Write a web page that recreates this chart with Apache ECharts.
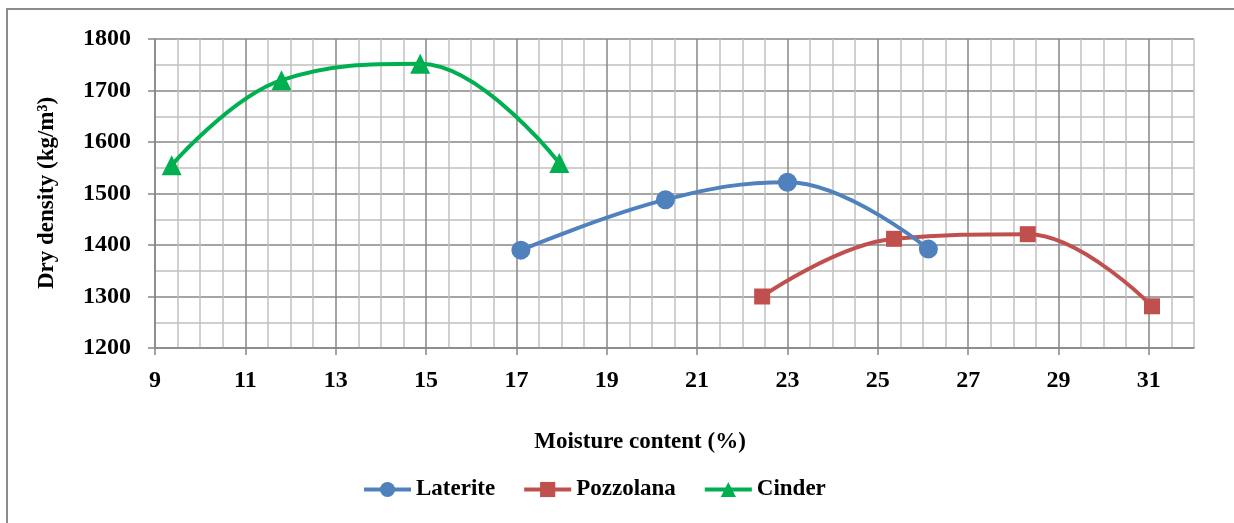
<!DOCTYPE html>
<html>
<head>
<meta charset="utf-8">
<script src="https://cdn.jsdelivr.net/npm/echarts@6/dist/echarts.min.js"></script>
<style>
html,body{margin:0;padding:0;background:#fff;}
#chart{width:1234px;height:523px;}
</style>
</head>
<body>
<div id="chart"></div>
<script>
// ---- data ----
const seriesNames = ['Laterite', 'Pozzolana', 'Cinder'];
const lateriteX = [17.1, 20.3, 23.0, 26.12];
const lateriteY = [1390, 1488, 1522, 1392];
const pozzolanaX = [22.44, 25.36, 28.32, 31.07];
const pozzolanaY = [1300, 1412, 1421, 1281];
const cinderX = [9.37, 11.8, 14.87, 17.95];
const cinderY = [1555, 1720, 1752, 1559];
const xTickLabels = [9, 11, 13, 15, 17, 19, 21, 23, 25, 27, 29, 31];
const yTickLabels = [1200, 1300, 1400, 1500, 1600, 1700, 1800];
const xAxisTitle = 'Moisture content (%)';
const yAxisTitle = 'Dry density (kg/m\u00B3)';

const font = "'Times New Roman', 'Liberation Serif', serif";
const major = '#878787';
const minor = '#c0c0c0';
const colors = ['#4f81bd', '#c0504d', '#00b050'];
const symbols = ['circle', 'rect', 'triangle'];
const symbolSizes = [19, 16, 20];

function pairs(xs, ys) { return xs.map((x, i) => [x, ys[i]]); }
const dataSets = [pairs(lateriteX, lateriteY), pairs(pozzolanaX, pozzolanaY), pairs(cinderX, cinderY)];

const chart = echarts.init(document.getElementById('chart'), null, {renderer: 'canvas'});
chart.setOption({
  backgroundColor: '#fff',
  animation: false,
  grid: {left: 155, right: 40, top: 39, bottom: 175, containLabel: false},
  xAxis: [{
    type: 'value', min: 9, max: 32, interval: 2, position: 'bottom', z: 2,
    axisLine: {show: true, lineStyle: {color: major, width: 1.5}},
    axisTick: {show: true, length: 7, customValues: xTickLabels, lineStyle: {color: major, width: 1.5}},
    axisLabel: {show: true, customValues: xTickLabels, margin: 21, color: '#000', fontFamily: font, fontWeight: 'bold', fontSize: 24},
    splitLine: {show: true, lineStyle: {color: major, width: 1.5}}
  }, {
    type: 'value', min: 9, max: 32, interval: 0.5, position: 'bottom', z: 1,
    axisLine: {show: false}, axisTick: {show: false}, axisLabel: {show: false},
    splitLine: {show: true, lineStyle: {color: ['rgba(0,0,0,0)', minor, minor, minor], width: 1.5}}
  }],
  yAxis: {
    type: 'value', min: 1200, max: 1800, interval: 100,
    axisLine: {show: true, lineStyle: {color: major, width: 1.5}},
    axisTick: {show: true, length: 7, lineStyle: {color: major, width: 1.5}},
    axisLabel: {show: true, margin: 24, color: '#000', fontFamily: font, fontWeight: 'bold', fontSize: 24,
      formatter: v => String(v)},
    splitLine: {show: true, lineStyle: {color: major, width: 1.5}},
    minorTick: {show: false, splitNumber: 2},
    minorSplitLine: {show: true, lineStyle: {color: minor, width: 1.5}}
  },
  legend: {
    left: 357, top: 473,
    itemWidth: 47, itemHeight: 19, itemGap: 27,
    lineStyle: {width: 4},
    textStyle: {color: '#000', fontFamily: font, fontWeight: 'bold', fontSize: 23},
    data: seriesNames
  },
  graphic: [
    {type: 'rect', shape: {x: 7, y: 9, width: 1260, height: 540}, style: {fill: 'none', stroke: '#8c8c8c', lineWidth: 2}, silent: true, z: -1},
    {type: 'text', x: 640, y: 442, style: {text: xAxisTitle, fill: '#000', font: 'bold 23px ' + font, textAlign: 'center', textVerticalAlign: 'middle'}},
    {type: 'text', x: 47, y: 193, rotation: Math.PI / 2, style: {text: yAxisTitle, fill: '#000', font: 'bold 23px ' + font, textAlign: 'center', textVerticalAlign: 'middle'}}
  ],
  series: seriesNames.map((n, i) => ({
    name: n, type: 'line', smooth: 0.4, xAxisIndex: 0,
    data: dataSets[i],
    symbol: symbols[i], symbolSize: symbolSizes[i],
    lineStyle: {color: colors[i], width: 4},
    itemStyle: {color: colors[i]},
    z: 3 + (2 - i)
  }))
});
</script>
</body>
</html>
